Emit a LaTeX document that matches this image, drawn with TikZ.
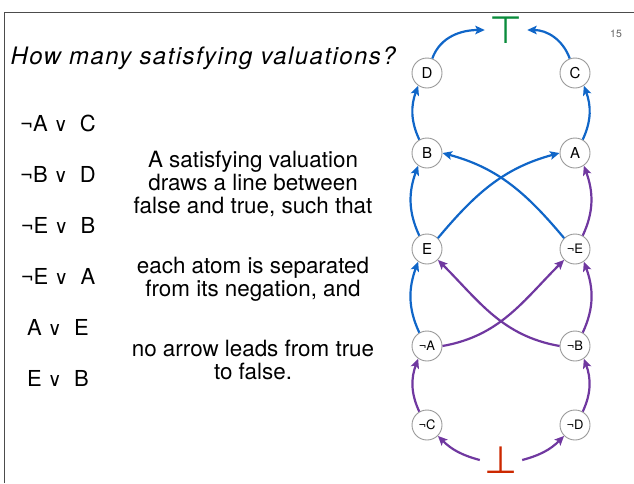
\documentclass[tikz,border=0pt]{standalone}
\usepackage{fontspec}
\setmainfont{TeX Gyre Heros}
\newfontfamily\titlefont[LetterSpace=6]{TeX Gyre Heros}
\newfontfamily\symfont{DejaVu Sans}
\usetikzlibrary{arrows.meta}
\definecolor{tblue}{RGB}{16,102,200}
\definecolor{tpurple}{RGB}{112,56,160}
\definecolor{tgreen}{RGB}{10,140,60}
\definecolor{tred}{RGB}{204,40,0}
\newcommand{\orsym}{{\symfont\fontsize{19}{19}\selectfont ∨}}

\begin{document}
\begin{tikzpicture}[x=1pt,y=-1pt,
  atom/.style={circle,draw=gray!80,fill=white,line width=0.9pt,minimum size=30pt,inner sep=0pt,font=\fontsize{15}{15}\selectfont},
  natom/.style={atom,font=\fontsize{13}{13}\selectfont},
  clause/.style={anchor=base,font=\fontsize{22}{22}\selectfont},
  remark/.style={align=center,anchor=base,font=\fontsize{22.4}{22.8}\selectfont},
  tv/.style={inner sep=0pt,minimum width=42pt,minimum height=30pt,font=\symfont\fontsize{38}{38}\selectfont},
  bluearr/.style={-{Stealth[length=9.5pt,width=8.5pt,inset=2pt]},line width=2.2pt,tblue},
  purparr/.style={bluearr,tpurple}]
\useasboundingbox (0,0) rectangle (634,483);
\draw[gray!60!black,line width=1pt] (4,483) -- (4,12) -- (634,12);
\node[anchor=base west,font=\titlefont\itshape\fontsize{24}{24}\selectfont] (title) at (7,64) {How many satisfying valuations?};
\node[font=\fontsize{10.5}{10.5}\selectfont,text=gray!80!black] (pg) at (616,34) {15};
\node[clause] (c1) at (58,131) {¬A \orsym\ \ C};
\node[clause] (c2) at (58,182) {¬B \orsym\ \ D};
\node[clause] (c3) at (58,233) {¬E \orsym\ \ B};
\node[clause] (c4) at (58,284) {¬E \orsym\ \ A};
\node[clause] (c5) at (58,335) {A \orsym\ \ E};
\node[clause] (c6) at (58,386) {E \orsym\ \ B};
\node[remark] (r1) at (253,213) {A satisfying valuation\\draws a line between\\false and true, such that};
\node[remark] (r2) at (253,296) {each atom is separated\\from its negation, and};
\node[remark] (r3) at (253,379) {no arrow leads from true\\to false.};
\node[atom] (D) at (427,73) {D};
\node[atom] (C) at (575,73) {C};
\node[atom] (B) at (427,153) {B};
\node[atom] (A) at (575,153) {A};
\node[atom] (E) at (427,249) {E};
\node[natom] (nE) at (575,249) {¬E};
\node[natom] (nA) at (427,346) {¬A};
\node[natom] (nB) at (575,346) {¬B};
\node[natom] (nC) at (427,425) {¬C};
\node[natom] (nD) at (575,425) {¬D};
\node[tv,text=tgreen] (top) at (506,30) {⊤};
\node[tv,text=tred] (bot) at (501,460) {⊥};
\draw[bluearr] (D.70) to[out=70,in=180] (top.west);
\draw[bluearr] (C.110) to[out=110,in=0] (top.east);
\draw[bluearr] (B.120) to[out=115,in=250] (D.235);
\draw[bluearr] (A.60) to[out=65,in=290] (C.305);
\draw[bluearr] (E.120) to[out=115,in=250] (B.235);
\draw[bluearr] (E.45) to[out=50,in=195] (A.west);
\draw[bluearr] (nE.135) to[out=130,in=345] (B.east);
\draw[bluearr] (nA.120) to[out=115,in=250] (E.235);
\draw[purparr] (nE.60) to[out=65,in=290] (A.305);
\draw[purparr] (nB.60) to[out=65,in=290] (nE.305);
\draw[purparr] (nA.east) to[out=10,in=225] (nE.225);
\draw[purparr] (nB.west) to[out=170,in=315] (E.315);
\draw[purparr] (nC.120) to[out=115,in=250] (nA.235);
\draw[purparr] (nD.60) to[out=65,in=290] (nB.305);
\draw[purparr] (bot.west) to[out=165,in=315] (nC.315);
\draw[purparr] (bot.east) to[out=15,in=225] (nD.225);
\end{tikzpicture}
\end{document}
